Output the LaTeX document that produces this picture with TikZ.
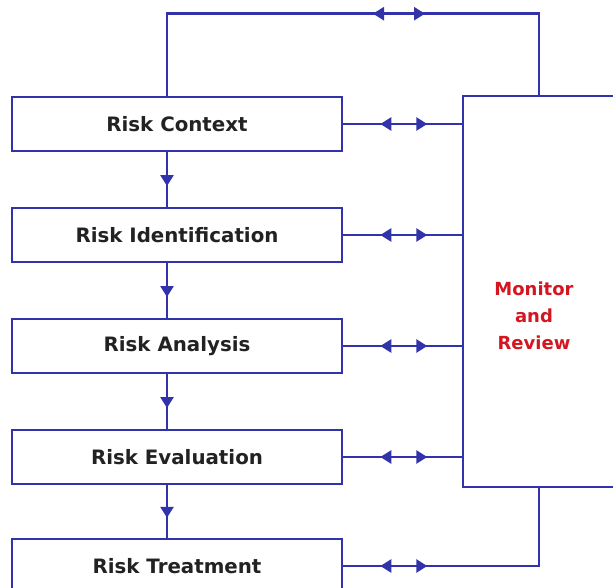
\documentclass[tikz,border=0pt]{standalone}
\usepackage{fontspec}
\setmainfont{DejaVu Sans}
\usetikzlibrary{arrows.meta,decorations.markings}
\definecolor{FlowBlue}{RGB}{50,50,170}
\definecolor{ReviewRed}{RGB}{212,22,32}
\definecolor{LabelGray}{RGB}{34,34,34}
\tikzset{
  stage/.style={draw=FlowBlue,fill=white,line width=2.6pt,inner sep=0pt,
    minimum width=330pt,minimum height=54pt,text=LabelGray,
    font=\bfseries\fontsize{19.8}{22}\selectfont},
  review/.style={draw=FlowBlue,fill=white,line width=2.6pt,inner sep=0pt,
    minimum width=152pt,minimum height=391pt},
  flowedge/.style={draw=FlowBlue,line width=2.6pt},
  downtip/.style={flowedge,postaction={decorate},decoration={markings,
    mark=at position 0.62 with {\arrow{Triangle[length=11pt,width=13pt]}}}},
  twoway/.style 2 args={flowedge,postaction={decorate},decoration={markings,
    mark=at position #1 with {\arrowreversed{Triangle[length=11pt,width=13pt]}},
    mark=at position #2 with {\arrow{Triangle[length=11pt,width=13pt]}}}},
}

\begin{document}
\begin{tikzpicture}[x=1pt,y=-1pt]
  \useasboundingbox (0,0) rectangle (613,588);
  \clip (0,0) rectangle (613,588);
  % stages
  \foreach \name/\txt/\yy in {ctx/Risk Context/124,ident/Risk Identification/235,
      anal/Risk Analysis/346,evalu/Risk Evaluation/457,treat/Risk Treatment/566}
    \node[stage] (\name) at (177,\yy) {\txt};
  \node[review] (monitor) at (539,291.5) {};
  \node[text=ReviewRed,align=center,font=\bfseries\fontsize{18}{27}\selectfont]
    (mrtext) at (534,316) {Monitor\\and\\Review};
  % flow down
  \foreach \a/\b in {ctx/ident,ident/anal,anal/evalu,evalu/treat}
    \draw[downtip] ([xshift=-10pt]\a.south) -- ([xshift=-10pt]\b.north);
  % links to monitor
  \foreach \n in {ctx,ident,anal,evalu}
    \draw[twoway={37pt}{84pt}] (\n.east) -- (\n.east -| monitor.west);
  \draw[twoway={37pt}{84pt}] (treat.east) -| (monitor.south);
  \draw[twoway={288pt}{340pt}] ([xshift=-10pt]ctx.north) -- ++(0,-82) -| (monitor.north);
\end{tikzpicture}
\end{document}
